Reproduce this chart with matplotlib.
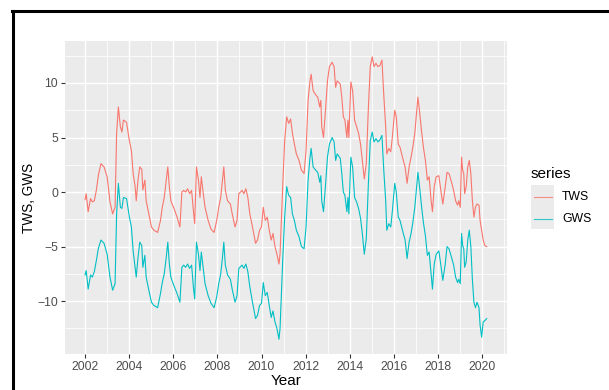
import matplotlib
matplotlib.use("Agg")
import matplotlib.pyplot as plt
from matplotlib.lines import Line2D
from matplotlib.patches import Rectangle

# Decimal years of the sampled observations
year = [
    2002.00, 2002.05, 2002.14, 2002.25, 2002.33, 2002.42, 2002.51, 2002.60, 2002.72, 2002.86,
    2003.00, 2003.13, 2003.25, 2003.36, 2003.43, 2003.51, 2003.60, 2003.67, 2003.74, 2003.88,
    2004.01, 2004.10, 2004.18, 2004.27, 2004.32, 2004.40, 2004.48, 2004.57, 2004.62, 2004.71,
    2004.77, 2004.89, 2005.01, 2005.12, 2005.29, 2005.42, 2005.50, 2005.59, 2005.68, 2005.75,
    2005.82, 2005.89, 2006.03, 2006.17, 2006.30, 2006.39, 2006.47, 2006.56, 2006.65, 2006.74,
    2006.83, 2006.91, 2006.97, 2007.05, 2007.14, 2007.21, 2007.27, 2007.35, 2007.44, 2007.58,
    2007.71, 2007.85, 2007.97, 2008.06, 2008.15, 2008.23, 2008.29, 2008.36, 2008.46, 2008.59,
    2008.67, 2008.80, 2008.89, 2008.97, 2009.12, 2009.20, 2009.29, 2009.38, 2009.47, 2009.59,
    2009.73, 2009.82, 2009.91, 2010.00, 2010.08, 2010.17, 2010.26, 2010.35, 2010.44, 2010.52,
    2010.61, 2010.70, 2010.79, 2010.84, 2010.96, 2011.05, 2011.14, 2011.23, 2011.32, 2011.40,
    2011.49, 2011.58, 2011.70, 2011.81, 2011.93, 2012.02, 2012.11, 2012.20, 2012.25, 2012.34,
    2012.46, 2012.55, 2012.64, 2012.69, 2012.73, 2012.81, 2012.90, 2012.99, 2013.08, 2013.20,
    2013.29, 2013.36, 2013.43, 2013.57, 2013.64, 2013.71, 2013.78, 2013.87, 2013.92, 2013.96,
    2014.05, 2014.13, 2014.22, 2014.31, 2014.40, 2014.49, 2014.57, 2014.66, 2014.75, 2014.84,
    2014.93, 2015.02, 2015.10, 2015.19, 2015.28, 2015.37, 2015.46, 2015.54, 2015.63, 2015.68,
    2015.77, 2015.86, 2015.93, 2016.04, 2016.11, 2016.20, 2016.28, 2016.39, 2016.51, 2016.60,
    2016.69, 2016.78, 2016.86, 2016.95, 2017.04, 2017.09, 2017.16, 2017.25, 2017.34, 2017.43,
    2017.52, 2017.60, 2017.69, 2017.75, 2017.83, 2017.92, 2018.04, 2018.13, 2018.22, 2018.33,
    2018.41, 2018.50, 2018.63, 2018.71, 2018.80, 2018.89, 2018.94, 2019.01, 2019.07, 2019.12,
    2019.17, 2019.21, 2019.28, 2019.35, 2019.42, 2019.49, 2019.56, 2019.63, 2019.70, 2019.77,
    2019.86, 2019.91, 2019.98, 2020.05, 2020.12, 2020.21,
]

# Terrestrial water storage anomaly
tws = [
    -0.7, -0.15, -1.8, -0.6, -0.9, -0.8, 0.15, 1.5, 2.6, 2.3,
    1.4, -0.9, -2.0, -1.4, 5.4, 7.8, 6.0, 5.5, 6.6, 6.4,
    4.7, 3.8, 1.7, 0.5, -0.8, 1.1, 2.3, 2.1, 0.2, 1.1,
    -0.8, -2.0, -3.2, -3.5, -3.7, -2.6, -1.4, -0.5, 1.1, 2.3,
    0.5, -0.8, -1.5, -2.3, -3.2, 0.0, 0.15, 0.0, 0.3, -0.15,
    0.15, -1.7, -2.9, 2.3, 1.1, -0.5, 1.4, 0.0, -1.4, -2.6,
    -3.4, -3.7, -2.6, -1.4, -0.5, 1.1, 2.3, 0.15, -0.8, -1.1,
    -2.0, -3.2, -2.6, -0.15, 0.15, -0.15, 0.3, -0.5, -2.0, -3.2,
    -4.7, -4.4, -3.5, -3.2, -1.4, -2.6, -2.3, -3.5, -4.4, -3.8,
    -5.0, -5.7, -6.6, -5.7, 0.5, 4.7, 6.9, 6.3, 6.7, 5.4,
    4.4, 3.5, 2.9, 2.0, 1.7, 3.8, 8.4, 10.2, 10.8, 9.3,
    8.9, 8.7, 7.8, 8.4, 6.0, 5.0, 7.5, 10.2, 11.5, 11.9,
    11.5, 9.6, 10.2, 9.9, 8.7, 6.9, 6.6, 5.0, 6.6, 5.0,
    10.1, 9.3, 6.6, 6.0, 5.4, 4.4, 2.9, 1.2, 2.6, 7.5,
    11.5, 12.4, 11.5, 11.8, 11.5, 11.6, 12.1, 9.0, 6.0, 3.5,
    4.0, 3.7, 5.0, 7.5, 6.9, 4.4, 4.1, 3.2, 2.3, 0.8,
    2.3, 3.2, 4.1, 5.4, 7.5, 8.7, 7.5, 5.7, 4.1, 2.9,
    1.1, 1.4, -0.8, -1.8, 0.5, 1.4, 1.5, 0.15, -1.1, 0.5,
    1.8, 1.7, 0.8, 0.15, -0.8, -1.2, -0.8, -1.4, 3.2, 2.0,
    1.7, -0.15, 0.5, 2.3, 2.9, 1.7, -0.8, -2.3, -1.4, -1.1,
    -1.2, -2.6, -3.5, -4.4, -4.9, -5.0,
]

# Groundwater storage anomaly
gws = [
    -7.6, -7.2, -8.9, -7.6, -7.8, -7.3, -6.3, -5.2, -4.4, -4.7,
    -5.7, -7.8, -9.0, -8.4, -2.0, 0.8, -1.4, -1.5, -0.5, -0.6,
    -2.3, -3.2, -5.4, -6.9, -7.8, -6.0, -4.6, -4.9, -6.9, -5.8,
    -7.8, -9.0, -10.1, -10.4, -10.6, -9.3, -8.3, -7.5, -6.0, -4.6,
    -6.6, -7.8, -8.6, -9.3, -10.1, -6.9, -6.7, -6.9, -6.6, -7.0,
    -6.7, -8.7, -9.8, -4.6, -5.7, -7.2, -5.5, -6.9, -8.4, -9.5,
    -10.2, -10.6, -9.6, -8.4, -7.5, -6.0, -4.6, -6.7, -7.6, -8.0,
    -8.9, -10.1, -9.5, -7.0, -6.7, -7.0, -6.6, -7.3, -8.7, -10.1,
    -11.6, -11.3, -10.4, -10.2, -8.3, -9.5, -9.2, -10.4, -11.5, -10.9,
    -11.9, -12.5, -13.5, -12.5, -6.3, -2.3, 0.5, -0.3, -0.5, -2.0,
    -2.6, -3.5, -4.1, -5.0, -5.2, -3.2, 1.1, 3.2, 4.0, 2.3,
    2.0, 1.8, 0.9, 1.5, -0.8, -1.8, 0.6, 3.2, 4.4, 5.0,
    4.6, 2.9, 3.5, 3.1, 1.7, 0.0, -0.3, -1.8, -0.5, -2.0,
    3.2, 2.3, -0.5, -0.9, -1.5, -2.4, -3.8, -5.7, -4.3, 0.5,
    4.7, 5.5, 4.6, 4.9, 4.6, 4.8, 5.2, 2.1, -0.8, -3.5,
    -2.9, -3.2, -1.8, 0.8, 0.0, -2.3, -2.6, -3.5, -4.4, -6.1,
    -4.6, -3.8, -2.8, -1.4, 0.6, 1.8, 0.6, -1.2, -2.8, -4.0,
    -5.8, -5.5, -7.5, -8.9, -6.6, -5.7, -5.4, -6.7, -8.1, -6.6,
    -5.0, -5.2, -6.1, -6.7, -7.8, -8.3, -8.0, -8.4, -3.8, -4.9,
    -5.2, -6.9, -6.4, -4.4, -3.5, -5.0, -8.0, -10.1, -10.6, -10.1,
    -10.6, -12.2, -13.3, -11.9, -11.8, -11.6,
]

series_names = ["TWS", "GWS"]
series_colors = ["#F8766D", "#00BFC4"]
x_ticks = list(range(2002, 2021, 2))
y_ticks = [-10, -5, 0, 5, 10]

W, H = 609, 390
fig = plt.figure(figsize=(W / 100, H / 100), dpi=100)
fig.patch.set_facecolor("white")

font = ["Liberation Sans", "DejaVu Sans"]

# plotting panel
pl, pr, pt, pb = 65, 507, 41, 354
ax = fig.add_axes([pl / W, 1 - pb / H, (pr - pl) / W, (pb - pt) / H])
ax.set_facecolor("#EBEBEB")
for s in ax.spines.values():
    s.set_visible(False)

ax.set_xticks(x_ticks)
ax.set_xticks(list(range(2001, 2022, 2)), minor=True)
ax.set_yticks(y_ticks)
ax.set_yticks([-12.5, -7.5, -2.5, 2.5, 7.5, 12.5], minor=True)
ax.grid(which="major", color="white", linewidth=1.07)
ax.grid(which="minor", color="white", linewidth=0.55)
ax.set_axisbelow(True)
ax.tick_params(which="major", length=2.75, width=0.8, color="#333333",
               labelsize=8.8, labelcolor="#4D4D4D", pad=2.2)
ax.tick_params(which="minor", length=0)
for lab in ax.get_xticklabels() + ax.get_yticklabels():
    lab.set_fontfamily(font)

for vals, name, col in zip([tws, gws], series_names, series_colors):
    ax.plot(year, vals, color=col, linewidth=0.8, label=name, solid_joinstyle="round")

ax.set_xlim(2001.09, 2021.13)
ax.set_ylim(-14.85, 13.85)

pw, ph = pr - pl, pb - pt
ax.set_xlabel("Year", fontsize=11, family=font, color="black", va="center")
ax.xaxis.set_label_coords(0.5, -(381 - pb) / ph)
ax.set_ylabel("TWS, GWS", fontsize=9.8, family=font, color="black", va="center")
ax.yaxis.set_label_coords(-(pl - 29) / pw, 0.5)

# legend
fig.text(531 / W, 1 - 174 / H, "series", fontsize=11, family=font,
         ha="left", va="center", color="black")
fig.patches.append(Rectangle((531 / W, 1 - 229 / H), 23 / W, 44 / H,
                             transform=fig.transFigure, facecolor="#EBEBEB",
                             edgecolor="none"))
for i, (name, col) in enumerate(zip(series_names, series_colors)):
    yk = 1 - (197 + 22 * i) / H
    fig.lines.append(Line2D([533.5 / W, 551.5 / W], [yk, yk], transform=fig.transFigure,
                            color=col, linewidth=0.8, alpha=0.8))
    fig.text(562 / W, yk, name, fontsize=8.8, family=font, ha="left", va="center",
             color="black")

# outer frame
fig.lines.append(Line2D([13 / W, 13 / W], [0, 1 - 11 / H], transform=fig.transFigure,
                        color="black", linewidth=2.2))
fig.lines.append(Line2D([12 / W, 1], [1 - 11 / H, 1 - 11 / H], transform=fig.transFigure,
                        color="black", linewidth=2.2))

fig.savefig("out.png", dpi=100, facecolor="white")
